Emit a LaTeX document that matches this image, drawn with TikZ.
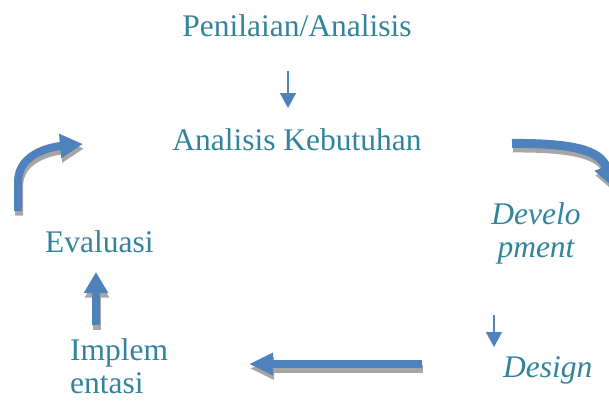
\documentclass[tikz,border=0pt]{standalone}
\usepackage{fontspec}
\setmainfont{Liberation Serif}
\usetikzlibrary{arrows.meta}

\definecolor{stageteal}{HTML}{31849B}
\definecolor{arrowblue}{HTML}{4F81BD}
\definecolor{shadowgrey}{HTML}{A6A6A6}

\tikzset{
  stagetext/.style={text=stageteal, inner sep=0pt, font=\fontsize{31.5}{33}\selectfont},
  thinarrow/.style={draw=arrowblue, line width=1.8pt, -{Triangle[width=16pt,length=15pt]}},
  blockarrow/.style={draw=arrowblue, line width=8pt, -{Triangle[width=23pt,length=23pt]}},
  blockshadow/.style={blockarrow, draw=shadowgrey, transform canvas={shift={(1pt,-4.5pt)}}}
}

\begin{document}
\begin{tikzpicture}[x=1pt, y=-1pt]
	\useasboundingbox (0,0) rectangle (609,404);
	\clip (0,0) rectangle (609,404);
	% stages
		\node[stagetext, anchor=base] (penilaian) at (297,37) {Penilaian/Analisis};
		\node[stagetext, anchor=base] (kebutuhan) at (297,150) {Analisis Kebutuhan};
		\node[stagetext, anchor=base west] (evaluasi) at (45,252) {Evaluasi};
		\node[stagetext, anchor=base west, align=left] (implementasi) at (70,393) {Implem\\entasi};
		\node[stagetext, anchor=base, align=center, font=\fontsize{31.5}{33}\selectfont\itshape] (development) at (536,257) {Develo\\pment};
		\node[stagetext, anchor=base west, font=\fontsize{31.5}{33}\selectfont\itshape] (design) at (503,377) {Design};
	% arrow ends
		\coordinate (penilaian-out) at (288,71);
		\coordinate (kebutuhan-in) at (288,108);
		\coordinate (kebutuhan-out) at (512,143.5);
		\coordinate (development-in) at (614,188);
		\coordinate (development-out) at (494,315);
		\coordinate (design-in) at (494,347);
		\coordinate (design-out) at (422,364);
		\coordinate (implementasi-in) at (249,364);
		\coordinate (implementasi-out) at (96,325);
		\coordinate (evaluasi-in) at (96,272);
		\coordinate (evaluasi-out) at (18,211);
		\coordinate (kebutuhan-back) at (83,144);
	% connectors
		\draw[thinarrow] (penilaian-out) -- (kebutuhan-in);
		\draw[thinarrow] (development-out) -- (design-in);
		\draw[blockshadow, line width=9pt] (kebutuhan-out) .. controls (572,143) and (600,150) .. (development-in);
		\draw[blockarrow, line width=9pt] (kebutuhan-out) .. controls (572,143) and (600,150) .. (development-in);
		\draw[blockshadow, -{Triangle[width=21pt,length=24pt]}] (design-out) -- (implementasi-in);
		\draw[blockarrow, -{Triangle[width=21pt,length=24pt]}] (design-out) -- (implementasi-in);
		\draw[blockshadow, -{Triangle[width=23pt,length=21pt]}] (implementasi-out) -- (evaluasi-in);
		\draw[blockarrow, -{Triangle[width=23pt,length=21pt]}] (implementasi-out) -- (evaluasi-in);
		\draw[blockshadow] (evaluasi-out) -- (18,182) to[out=90,in=185] (kebutuhan-back);
		\draw[blockarrow] (evaluasi-out) -- (18,182) to[out=90,in=185] (kebutuhan-back);
\end{tikzpicture}
\end{document}
